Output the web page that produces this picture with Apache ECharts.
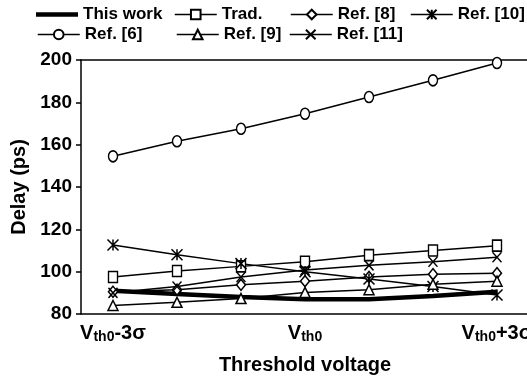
<!DOCTYPE html>
<html>
<head>
<meta charset="utf-8">
<script src="https://cdn.jsdelivr.net/npm/echarts@6/dist/echarts.min.js"></script>
<style>html,body{margin:0;padding:0;background:#fff}#c{width:527px;height:379px}</style>
</head>
<body>
<div id="c"></div>
<script>
const categories = ['Vth0-3σ','Vth0-2σ','Vth0-σ','Vth0','Vth0+σ','Vth0+2σ','Vth0+3σ'];
const yTicks = [80, 100, 120, 140, 160, 180, 200];
const thisWork = [91, 89.5, 88, 87, 87, 88.5, 90.5];
const trad     = [97.5, 100.3, 102.5, 104.7, 107.8, 110, 112.3];
const ref6     = [154.5, 161.6, 167.5, 174.6, 182.5, 190.4, 198.6];
const ref8     = [90.5, 91.5, 93.8, 95.5, 97.5, 98.8, 99.3];
const ref9     = [84, 85.5, 87.3, 90.2, 91.5, 94, 95.5];
const ref10    = [112.6, 108, 103.8, 100, 96.5, 93, 89];
const ref11    = [90, 93, 97.5, 100.8, 103, 104.7, 106.8];

const FONT = 'Liberation Sans, Arial, sans-serif';
const STAR = 'path://M0,0L10,10M10,0L0,10M5,0L5,10';
const CROSS = 'path://M0,0L10,10M10,0L0,10';

function mk(name, data, symbol, size){
  return {
    name, type:'line', data, symbol, symbolSize:size, showSymbol:true,
    lineStyle:{color:'#000', width:1.5},
    itemStyle:{color:'#fff', borderColor:'#000', borderWidth:1.5},
    emphasis:{disabled:true}, animation:false
  };
}
const series = [
  {name:'This work', type:'line', data:thisWork, symbol:'none', lineStyle:{color:'#000', width:4.5}, itemStyle:{color:'#000'}, emphasis:{disabled:true}, animation:false, z:1},
  mk('Trad.', trad, 'rect', [9,11]),
  mk('Ref. [8]', ref8, 'diamond', [9,11]),
  mk('Ref. [10]', ref10, STAR, [11,11]),
  mk('Ref. [6]', ref6, 'circle', [9,11]),
  mk('Ref. [9]', ref9, 'triangle', [10,10]),
  mk('Ref. [11]', ref11, CROSS, [9,10])
];
const legendPos = [
  ['This work', 36, 6], ['Trad.', 174, 6], ['Ref. [8]', 290, 6], ['Ref. [10]', 410, 6],
  ['Ref. [6]', 37, 26], ['Ref. [9]', 176, 26], ['Ref. [11]', 289, 26]
];
const legends = legendPos.map(([n,l,t]) => ({
  data:[n === 'This work' ? {name:n, icon:'path://M0,0L42,0L42,4.5L0,4.5Z', itemStyle:{color:'#000', borderWidth:0}} : n],
  left:l, top:t, padding:0, itemWidth:42, itemHeight:12, itemGap:5,
  selectedMode:false,
  lineStyle:{width:1.5, color:'#000'},
  textStyle:{fontFamily:FONT, fontSize:17, fontWeight:'bold', color:'#000'}
}));

const chart = echarts.init(document.getElementById('c'), null, {renderer:'canvas'});
chart.setOption({
  backgroundColor:'#fff',
  animation:false,
  legend: legends,
  grid:{left:81, top:60, width:448, height:254, containLabel:false, outerBoundsMode:'none'},
  xAxis:[{
    type:'category', data:categories, boundaryGap:true,
    name:'Threshold voltage', nameLocation:'middle', nameGap:41,
    nameTextStyle:{fontFamily:FONT, fontSize:20, fontWeight:'bold', color:'#000'},
    axisLine:{lineStyle:{color:'#000', width:1.5}},
    axisTick:{show:false},
    axisLabel:{
      interval:2, margin:8, color:'#000', hideOverlap:false,
      formatter:(v)=>'{v|V}{s|th0}{v|'+v.slice(4)+'}',
      rich:{
        v:{fontFamily:FONT, fontSize:20, fontWeight:'bold', color:'#000'},
        s:{fontFamily:FONT, fontSize:14, fontWeight:'bold', color:'#000', padding:[8,0,0,0]}
      }
    },
    splitLine:{show:false}
  },{
    type:'category', data:categories, position:'top',
    axisLine:{lineStyle:{color:'#000', width:1.5}},
    axisTick:{show:false}, axisLabel:{show:false}, splitLine:{show:false}
  }],
  yAxis:{
    type:'value', min:yTicks[0], max:yTicks[yTicks.length-1], interval:yTicks[1]-yTicks[0],
    name:'Delay (ps)', nameLocation:'middle', nameGap:50,
    nameTextStyle:{fontFamily:FONT, fontSize:20, fontWeight:'bold', color:'#000'},
    axisLine:{show:true, lineStyle:{color:'#000', width:1.5}},
    axisTick:{show:true, length:5, lineStyle:{color:'#000', width:1.5}},
    axisLabel:{fontFamily:FONT, fontSize:19, fontWeight:'bold', color:'#000', margin:9},
    splitLine:{show:false}
  },
  series
});
</script>
</body>
</html>
